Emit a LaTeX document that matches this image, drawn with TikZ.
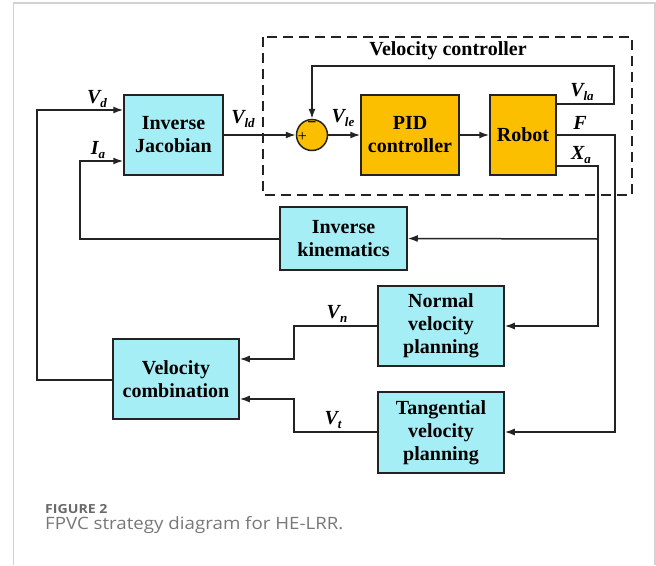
\documentclass[tikz,border=0pt]{standalone}
\usepackage{fontspec}
\setmainfont{Liberation Serif}
\newfontfamily\capfont{Open Sans}
\newfontfamily\capfontA[FakeStretch=1.13]{Open Sans}
\newfontfamily\capfontB[FakeStretch=1.10]{Open Sans}
\usetikzlibrary{arrows.meta,calc}
\definecolor{cyanbox}{RGB}{166,238,246}
\definecolor{orangebox}{RGB}{251,191,0}
\definecolor{linec}{RGB}{35,35,35}
\definecolor{framec}{RGB}{210,210,210}
\definecolor{capc}{RGB}{105,105,105}
\definecolor{capd}{RGB}{120,120,120}
\newcommand{\sig}[2]{{\fontsize{20}{20}\selectfont\bfseries\itshape #1}\raisebox{-3.5pt}{\fontsize{13}{13}\selectfont\bfseries\itshape #2}}
\tikzset{
  blk/.style={draw=linec,line width=1.5pt,fill=cyanbox,align=center,inner sep=0pt,
    font=\fontsize{20}{23}\selectfont\bfseries},
  oblk/.style={blk,fill=orangebox},
  conn/.style={draw=linec,line width=1.5pt},
  arr/.style={conn,-{Latex[length=10pt,width=7pt]}},
  lbl/.style={inner sep=0pt,anchor=center},
}
\begin{document}
\begin{tikzpicture}[x=1pt,y=-1pt]
\useasboundingbox (0,0) rectangle (656,565);
\fill[white] (0,0) rectangle (656,565);
% frame
\draw[framec,line width=1.5pt] (13.5,565) -- (13.5,3) -- (655,3) -- (655,565);
% dashed velocity controller box
\draw[linec,line width=1.5pt,dash pattern=on 10pt off 6pt] (263,37) rectangle (632,195);
\node[lbl,font=\fontsize{20}{20}\selectfont\bfseries] (vctitle) at (448,51) {Velocity controller};
% blocks
\node[blk,minimum width=99pt,minimum height=80pt] (IJ) at (173.5,135) {Inverse\\Jacobian};
\node[oblk,minimum width=98pt,minimum height=80pt] (PID) at (410,135) {PID\\controller};
\node[oblk,minimum width=66pt,minimum height=80pt] (RB) at (523,135) {Robot};
\node[blk,minimum width=127pt,minimum height=63pt] (IK) at (343.5,238.5) {Inverse\\kinematics};
\node[blk,minimum width=126pt,minimum height=80pt] (NVP) at (441,326) {Normal\\velocity\\planning};
\node[blk,minimum width=126pt,minimum height=81pt] (TVP) at (441,432.5) {Tangential\\velocity\\planning};
\node[blk,minimum width=126pt,minimum height=80pt] (VC) at (176,379) {Velocity\\combination};
\node[draw=linec,line width=1.5pt,fill=orangebox,circle,minimum size=31pt,inner sep=0pt] (S) at (312,135) {};
\node[lbl,font=\fontsize{16}{16}\selectfont] (plus) at (302.5,136.5) {+};
\node[lbl,font=\fontsize{16}{16}\selectfont\bfseries] (minus) at (312,124.5) {−};
% connectors
\draw[arr] (IJ.east) -- (S.west);
\draw[arr] (S.east) -- (PID.west);
\draw[arr] (PID.east) -- (RB.west);
\coordinate (fb1) at (614,104);
\coordinate (fb2) at (614,66);
\draw[arr] (RB.east |- fb1) -- (fb1) -- (fb2) -- (S.north |- fb2) -- (S.north);
\coordinate (xa) at (598,166);
\coordinate (xa2) at (598,326);
\draw[arr] (RB.east |- xa) -- (xa) -- (xa2) -- (NVP.east);
\draw[arr] (598,239) -- (IK.east);
\coordinate (ff) at (615,135);
\coordinate (ff2) at (615,432);
\draw[arr] (RB.east) -- (ff) -- (ff2) -- (TVP.east |- ff2);
\draw[arr] (IK.west |- 0,239) -- (80,239) -- (80,161) -- (IJ.west |- 0,161);
\draw[arr] (VC.west |- 0,380) -- (37,380) -- (37,110) -- (IJ.west |- 0,110);
\draw[arr] (NVP.west) -- (294,326) -- (294,359) -- (VC.east |- 0,359);
\draw[arr] (TVP.west |- 0,432) -- (294,432) -- (294,399) -- (VC.east |- 0,399);
% signal labels
\node[lbl] (lVd) at (97,99) {\sig{V}{d}};
\node[lbl] (lIa) at (98,150) {\sig{I}{a}};
\node[lbl] (lVld) at (243,119) {\sig{V}{ld}};
\node[lbl] (lVle) at (343,118) {\sig{V}{le}};
\node[lbl] (lVla) at (582,92) {\sig{V}{la}};
\node[lbl] (lF) at (580,125) {\sig{F}{}};
\node[lbl] (lXa) at (581,155) {\sig{X}{a}};
\node[lbl] (lVn) at (337,314) {\sig{V}{n}};
\node[lbl] (lVt) at (333,420) {\sig{V}{t}};
% caption
\node[anchor=base west,inner sep=0pt,text=capc,font=\capfontA\fontsize{12.5}{13}\selectfont\bfseries] (cap1) at (45,513.5) {FIGURE 2};
\node[anchor=base west,inner sep=0pt,text=capd,font=\capfontB\fontsize{17}{19}\selectfont] (cap2) at (45,529) {FPVC strategy diagram for HE-LRR.};
\end{tikzpicture}
\end{document}
